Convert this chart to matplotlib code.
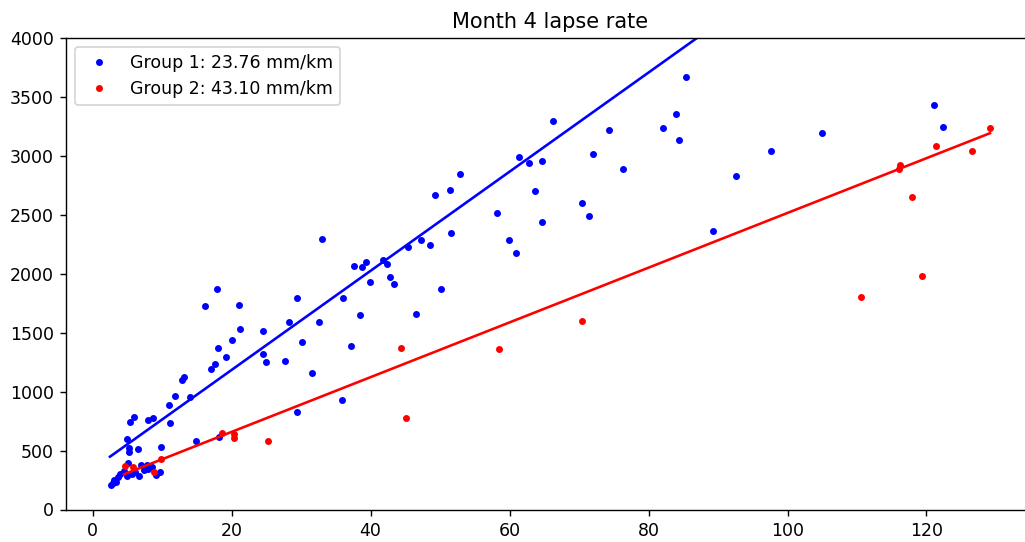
import matplotlib
matplotlib.use("Agg")
import matplotlib.pyplot as plt
import numpy as np

# group 1 (blue) points: precipitation vs elevation
g1_x = np.array([85.44, 83.91, 82.13, 84.43, 105.0, 97.63, 92.63, 89.32, 121.13, 122.42,
                 66.30, 74.36, 72.01, 76.33, 61.36, 62.84, 64.63, 52.87, 51.39, 49.23,
                 63.62, 58.15, 64.67, 70.38, 71.48, 45.43, 47.30, 48.60, 51.58, 59.88,
                 60.97, 50.18, 46.50, 32.97, 37.66, 38.77, 39.34, 41.75, 42.37, 42.80,
                 43.42, 39.96, 35.99, 38.52, 29.37, 28.26, 32.54, 30.13, 37.14, 31.53,
                 27.69, 24.48, 24.56, 25.00, 21.07, 21.25, 20.06, 17.95, 16.22, 18.00,
                 19.20, 17.66, 17.08, 12.91, 13.11, 11.90, 11.04, 14.02, 8.65, 11.18,
                 9.84, 14.88, 35.85, 29.41, 18.15, 5.91, 5.34, 7.97, 4.99, 5.28,
                 5.28, 6.58, 2.58, 2.86, 3.08, 3.66, 4.01, 4.45, 5.14, 4.95,
                 5.60, 6.10, 6.61, 6.97, 7.76, 8.48, 9.05, 9.63, 7.40, 8.04, 3.37])
g1_y = np.array([3670, 3353, 3240, 3132, 3195, 3039, 2830, 2363, 3433, 3242,
                 3297, 3217, 3017, 2889, 2991, 2937, 2960, 2849, 2711, 2668,
                 2702, 2512, 2439, 2603, 2490, 2229, 2289, 2246, 2342, 2286,
                 2172, 1870, 1660, 2295, 2065, 2057, 2099, 2119, 2085, 1972,
                 1913, 1926, 1796, 1654, 1796, 1590, 1592, 1420, 1391, 1157,
                 1261, 1516, 1315, 1253, 1731, 1535, 1439, 1867, 1728, 1369,
                 1295, 1233, 1196, 1102, 1125, 966, 887, 955, 780, 732,
                 533, 584, 932, 825, 618, 788, 746, 760, 596, 520,
                 491, 514, 204, 221, 251, 272, 301, 323, 392, 285,
                 301, 318, 280, 378, 378, 361, 293, 314, 335, 344, 234])

# group 2 (red) points
g2_x = np.array([129.14, 121.33, 126.55, 116.19, 116.09, 117.87, 119.40, 110.53, 70.36, 44.38,
                 58.51, 45.06, 25.24, 18.55, 20.39, 20.39, 9.81, 4.66, 5.77, 8.88])
g2_y = np.array([3234, 3087, 3045, 2923, 2889, 2654, 1980, 1802, 1599, 1369,
                 1363, 780, 582, 652, 641, 603, 427, 365, 357, 321])

# fitted lines (intercept, slope)
g1_fit = (343.0, 42.05)
g2_fit = (194.0, 23.22)

labels = ["Group 1: 23.76 mm/km", "Group 2: 43.10 mm/km"]

fig = plt.figure(figsize=(8.2, 4.336), dpi=125)
ax = fig.add_axes([66 / 1025, 32.5 / 542, 968 / 1025, 471.5 / 542])

ax.plot(g1_x, g1_y, '.', color='b', label=labels[0])
ax.plot(g2_x, g2_y, '.', color='r', label=labels[1])

lx1 = np.array([2.5, g1_x.max()])
lx2 = np.array([4.52, g2_x.max()])
ax.plot(lx1, g1_fit[0] + g1_fit[1] * lx1, '-', color='b')
ax.plot(lx2, g2_fit[0] + g2_fit[1] * lx2, '-', color='r')

ax.set_ylim(0, 4000)
ax.set_title("Month 4 lapse rate")
ax.legend(loc='upper left')

fig.savefig("out.png", dpi=125)
